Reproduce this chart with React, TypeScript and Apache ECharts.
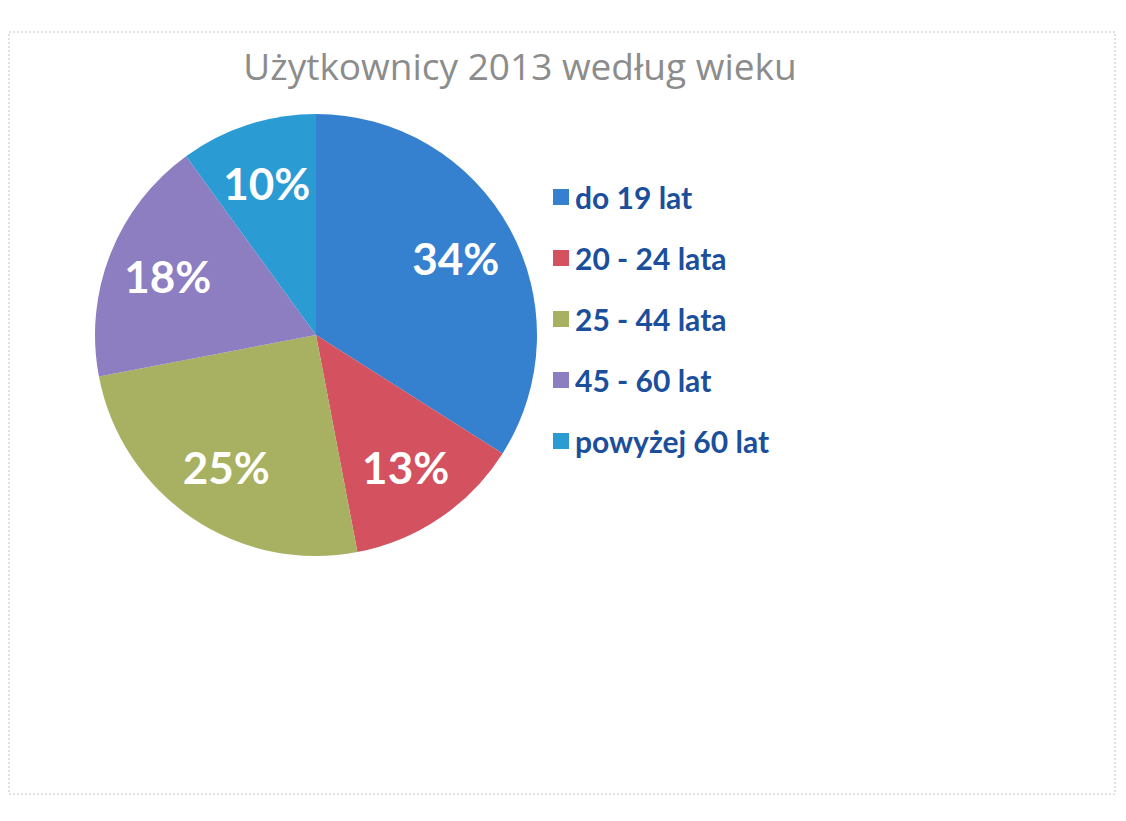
import React, { useEffect, useRef } from "react";
import * as echarts from "echarts";

const categories = ["do 19 lat", "20 - 24 lata", "25 - 44 lata", "45 - 60 lat", "powyżej 60 lat"];
const values = [34, 13, 25, 18, 10];
const colors = ["#3580cf", "#d4515f", "#a8b161", "#8d7dc1", "#2b9bd3"];
const titleText = "Użytkownicy 2013 według wieku";

export default function App() {
  const ref = useRef<HTMLDivElement>(null);
  useEffect(() => {
    if (!ref.current) return;
    const chart = echarts.init(ref.current, null, { renderer: "svg" });
    const data = categories.map((name, i) => ({ name, value: values[i], itemStyle: { color: colors[i] } }));
    chart.setOption({
      animation: false,
      backgroundColor: "#ffffff",
      title: {
        text: titleText,
        left: 507,
        top: 34,
        textAlign: "center",
        textStyle: { fontFamily: "Open Sans", fontSize: 37, fontWeight: "normal", color: "#8c8c8c" },
      },
      legend: {
        orient: "vertical",
        left: 540,
        top: 169,
        itemWidth: 16,
        itemHeight: 16,
        itemGap: 31,
        icon: "rect",
        data: categories,
        textStyle: { fontFamily: "Lato", fontSize: 30, fontWeight: "bold", color: "#1b4f9c", padding: [0, 0, 0, 1] },
      },
      graphic: [
        {
          type: "rect",
          shape: { x: 1, y: 24, width: 1106, height: 762 },
          style: { fill: "none", stroke: "#c4c4c4", lineWidth: 1, lineDash: [2, 2] },
          silent: true,
        },
      ],
      series: [
        {
          type: "pie",
          center: [308, 327],
          radius: [0, 221],
          startAngle: 90,
          clockwise: true,
          label: { show: false },
          labelLine: { show: false },
          data,
        },
        {
          type: "pie",
          center: [308, 327],
          radius: [92, 221],
          startAngle: 90,
          clockwise: true,
          silent: true,
          itemStyle: { color: "rgba(0,0,0,0)" },
          label: {
            show: true,
            position: "inside",
            formatter: "{c}%",
            fontFamily: "Lato",
            fontSize: 44,
            fontWeight: "bold",
            color: "#ffffff",
          },
          labelLine: { show: false },
          data: categories.map((name, i) => ({ name, value: values[i], itemStyle: { color: "rgba(0,0,0,0)" } })),
        },
      ],
    });
    return () => chart.dispose();
  }, []);
  return <div ref={ref} style={{ width: 1110, height: 805 }} />;
}
